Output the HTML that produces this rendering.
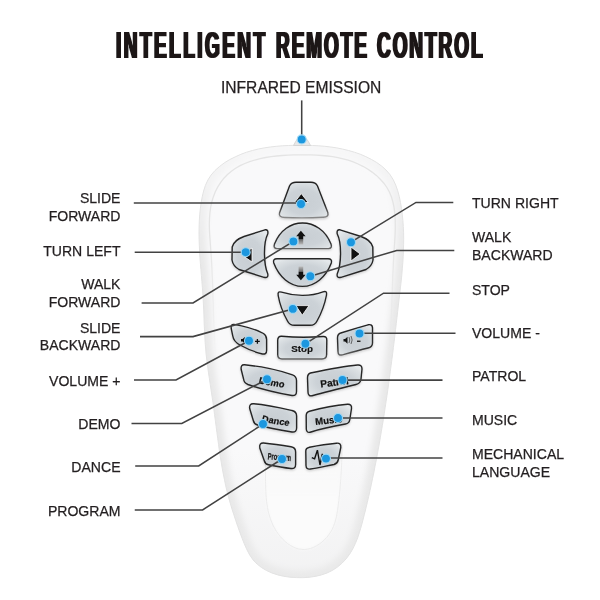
<!DOCTYPE html>
<html><head><meta charset="utf-8">
<style>
html,body{margin:0;padding:0;background:#fff;width:600px;height:600px;overflow:hidden}
svg{position:absolute;left:0;top:0;will-change:transform}
.lbl{font-family:"Liberation Sans",sans-serif;font-size:14.05px;fill:#231f20;stroke:#231f20;stroke-width:0.25}
.ttl{font-family:"Liberation Sans",sans-serif;font-weight:bold;font-size:36.5px;fill:#1d1819}
.ln{stroke:#424242;stroke-width:1.55;fill:none;stroke-linejoin:miter}
.dot{fill:#1c97df;stroke:#9fd8f4;stroke-width:1.1}
.btn path{fill:url(#bg);stroke:#262626;stroke-width:1.4}
.bt{font-family:"Liberation Sans",sans-serif;font-weight:bold;fill:#111;stroke:#111;stroke-width:0.2}
</style></head><body>
<svg width="600" height="600" viewBox="0 0 600 600">
<defs>
<linearGradient id="strk" x1="0" y1="0" x2="0" y2="1"><stop offset="0" stop-color="#222"/><stop offset="0.65" stop-color="#2a2a2a"/><stop offset="1" stop-color="#8a8a8a"/></linearGradient>
<linearGradient id="strk2" x1="0" y1="0" x2="0" y2="1"><stop offset="0" stop-color="#222"/><stop offset="0.8" stop-color="#333"/><stop offset="1" stop-color="#666"/></linearGradient>
<filter id="bshadow" x="-10%" y="-10%" width="120%" height="130%"><feDropShadow dx="0" dy="1.2" stdDeviation="1" flood-color="#000" flood-opacity="0.18"/></filter>
<filter id="thick" x="-5%" y="-20%" width="110%" height="140%"><feMorphology operator="dilate" radius="0.8 0"/></filter>
<radialGradient id="bg" cx="0.5" cy="0.55" r="0.62"><stop offset="0" stop-color="#c8ced3"/><stop offset="0.55" stop-color="#ccd2d7"/><stop offset="0.9" stop-color="#dce1e4"/><stop offset="1" stop-color="#e4e8eb"/></radialGradient>
<linearGradient id="body" x1="0" y1="0" x2="1" y2="0">
<stop offset="0" stop-color="#f4f4f4"/><stop offset="0.06" stop-color="#fbfbfb"/><stop offset="0.5" stop-color="#ffffff"/><stop offset="0.85" stop-color="#fafafa"/><stop offset="0.93" stop-color="#efefef"/><stop offset="1" stop-color="#f6f6f6"/>
</linearGradient>
</defs>
<!-- title -->
<g class="ttl" filter="url(#thick)">
<text x="0" y="0" transform="translate(116,58) scale(0.52,1)" style="letter-spacing:4.75px">INTELLIGENT</text>
<text x="0" y="0" transform="translate(276,58) scale(0.52,1)" style="letter-spacing:3.75px">REMOTE</text>
<text x="0" y="0" transform="translate(377,58) scale(0.52,1)" style="letter-spacing:3.75px">CONTROL</text>
</g>
<text class="lbl" x="221" y="92.8" style="font-size:15.6px">INFRARED EMISSION</text>
<!-- left labels -->
<g class="lbl" text-anchor="end">
<text x="120.5" y="203">SLIDE</text>
<text x="120.5" y="220.7">FORWARD</text>
<text x="120.5" y="255.5">TURN LEFT</text>
<text x="120.5" y="289.3">WALK</text>
<text x="120.5" y="307">FORWARD</text>
<text x="120.5" y="332.7">SLIDE</text>
<text x="120.5" y="350.2">BACKWARD</text>
<text x="120.5" y="385.5">VOLUME +</text>
<text x="120.5" y="429">DEMO</text>
<text x="120.5" y="472">DANCE</text>
<text x="120.5" y="515.6">PROGRAM</text>
</g>
<g class="lbl">
<text x="472" y="207.6">TURN RIGHT</text>
<text x="472" y="242">WALK</text>
<text x="472" y="259.6">BACKWARD</text>
<text x="472" y="294.6">STOP</text>
<text x="472" y="337.7">VOLUME -</text>
<text x="472" y="381">PATROL</text>
<text x="472" y="425">MUSIC</text>
<text x="472" y="459">MECHANICAL</text>
<text x="472" y="476.5">LANGUAGE</text>
</g>
<!-- remote body -->
<clipPath id="bclip"><path d="M300.5,145.3 L306.6,145.3 L312.7,145.5 L318.8,145.8 L324.8,146.3 L330.8,147.0 L336.8,147.9 L342.7,149.1 L348.6,150.5 L354.4,152.2 L360.2,154.2 L365.8,156.6 L371.4,159.4 L376.7,162.5 L381.7,166.1 L386.1,170.1 L390.0,174.6 L393.2,179.6 L395.7,185.0 L397.7,190.7 L399.3,196.6 L400.5,202.5 L401.5,208.6 L402.3,214.6 L402.9,220.6 L403.3,226.6 L403.6,232.7 L403.7,238.7 L403.6,244.7 L403.4,250.8 L403.2,256.8 L402.8,262.9 L402.3,268.9 L401.8,275.0 L401.2,281.0 L400.5,287.1 L399.8,293.2 L399.1,299.2 L398.4,305.2 L397.7,311.3 L397.0,317.3 L396.3,323.3 L395.6,329.4 L394.9,335.4 L394.2,341.4 L393.4,347.4 L392.7,353.5 L391.9,359.5 L391.1,365.5 L390.3,371.5 L389.5,377.5 L388.7,383.5 L387.9,389.4 L387.0,395.4 L386.1,401.4 L385.2,407.4 L384.3,413.4 L383.4,419.3 L382.4,425.3 L381.4,431.2 L380.4,437.2 L379.4,443.1 L378.3,449.1 L377.2,455.0 L376.1,461.0 L374.9,466.9 L373.8,472.8 L372.5,478.7 L371.3,484.7 L370.0,490.6 L368.7,496.5 L367.3,502.4 L365.9,508.3 L364.4,514.3 L362.9,520.2 L361.3,526.2 L359.5,532.2 L357.6,538.0 L355.3,543.6 L352.7,549.1 L349.6,554.2 L346.0,559.0 L341.9,563.3 L337.4,567.1 L332.4,570.4 L327.0,573.0 L321.2,575.0 L315.2,576.4 L309.0,577.3 L302.6,577.7 L296.3,577.6 L289.9,577.2 L283.7,576.3 L277.7,574.9 L272.0,573.0 L266.6,570.6 L261.6,567.6 L257.1,564.1 L253.1,559.9 L249.7,555.0 L246.9,549.7 L244.4,544.1 L242.1,538.3 L239.9,532.4 L237.8,526.6 L235.8,520.7 L233.9,514.9 L232.0,509.1 L230.3,503.3 L228.6,497.5 L227.1,491.6 L225.7,485.8 L224.5,479.9 L223.3,474.0 L222.2,468.1 L221.2,462.1 L220.2,456.2 L219.3,450.2 L218.5,444.2 L217.7,438.3 L216.9,432.3 L216.1,426.3 L215.3,420.3 L214.5,414.3 L213.7,408.2 L212.9,402.2 L212.0,396.2 L211.1,390.2 L210.2,384.2 L209.3,378.1 L208.4,372.1 L207.6,366.1 L206.8,360.1 L206.1,354.1 L205.6,348.1 L205.1,342.1 L204.8,336.0 L204.5,330.0 L204.2,324.0 L204.0,318.0 L203.8,312.0 L203.5,306.0 L203.2,299.9 L202.8,293.9 L202.4,287.8 L201.9,281.7 L201.4,275.6 L200.9,269.5 L200.4,263.5 L199.9,257.4 L199.6,251.3 L199.3,245.2 L199.1,239.1 L199.0,233.0 L199.1,227.0 L199.3,220.9 L199.7,214.9 L200.3,208.9 L201.1,202.9 L202.2,196.9 L203.6,191.0 L205.4,185.4 L207.9,180.0 L211.1,175.0 L215.0,170.5 L219.5,166.5 L224.4,162.8 L229.7,159.6 L235.3,156.8 L240.9,154.3 L246.6,152.2 L252.4,150.5 L258.3,149.0 L264.2,147.9 L270.2,147.0 L276.2,146.3 L282.2,145.8 L288.3,145.5 L294.4,145.3 L300.5,145.3Z"/></clipPath>
<filter id="blur1" x="-20%" y="-20%" width="140%" height="140%"><feGaussianBlur stdDeviation="0.7"/></filter>
<filter id="blur2" x="-20%" y="-20%" width="140%" height="140%"><feGaussianBlur stdDeviation="1.5"/></filter>
<filter id="blur3" x="-20%" y="-20%" width="140%" height="140%"><feGaussianBlur stdDeviation="3"/></filter>
<path fill="#f9f9fa" d="M300.5,145.3 L306.6,145.3 L312.7,145.5 L318.8,145.8 L324.8,146.3 L330.8,147.0 L336.8,147.9 L342.7,149.1 L348.6,150.5 L354.4,152.2 L360.2,154.2 L365.8,156.6 L371.4,159.4 L376.7,162.5 L381.7,166.1 L386.1,170.1 L390.0,174.6 L393.2,179.6 L395.7,185.0 L397.7,190.7 L399.3,196.6 L400.5,202.5 L401.5,208.6 L402.3,214.6 L402.9,220.6 L403.3,226.6 L403.6,232.7 L403.7,238.7 L403.6,244.7 L403.4,250.8 L403.2,256.8 L402.8,262.9 L402.3,268.9 L401.8,275.0 L401.2,281.0 L400.5,287.1 L399.8,293.2 L399.1,299.2 L398.4,305.2 L397.7,311.3 L397.0,317.3 L396.3,323.3 L395.6,329.4 L394.9,335.4 L394.2,341.4 L393.4,347.4 L392.7,353.5 L391.9,359.5 L391.1,365.5 L390.3,371.5 L389.5,377.5 L388.7,383.5 L387.9,389.4 L387.0,395.4 L386.1,401.4 L385.2,407.4 L384.3,413.4 L383.4,419.3 L382.4,425.3 L381.4,431.2 L380.4,437.2 L379.4,443.1 L378.3,449.1 L377.2,455.0 L376.1,461.0 L374.9,466.9 L373.8,472.8 L372.5,478.7 L371.3,484.7 L370.0,490.6 L368.7,496.5 L367.3,502.4 L365.9,508.3 L364.4,514.3 L362.9,520.2 L361.3,526.2 L359.5,532.2 L357.6,538.0 L355.3,543.6 L352.7,549.1 L349.6,554.2 L346.0,559.0 L341.9,563.3 L337.4,567.1 L332.4,570.4 L327.0,573.0 L321.2,575.0 L315.2,576.4 L309.0,577.3 L302.6,577.7 L296.3,577.6 L289.9,577.2 L283.7,576.3 L277.7,574.9 L272.0,573.0 L266.6,570.6 L261.6,567.6 L257.1,564.1 L253.1,559.9 L249.7,555.0 L246.9,549.7 L244.4,544.1 L242.1,538.3 L239.9,532.4 L237.8,526.6 L235.8,520.7 L233.9,514.9 L232.0,509.1 L230.3,503.3 L228.6,497.5 L227.1,491.6 L225.7,485.8 L224.5,479.9 L223.3,474.0 L222.2,468.1 L221.2,462.1 L220.2,456.2 L219.3,450.2 L218.5,444.2 L217.7,438.3 L216.9,432.3 L216.1,426.3 L215.3,420.3 L214.5,414.3 L213.7,408.2 L212.9,402.2 L212.0,396.2 L211.1,390.2 L210.2,384.2 L209.3,378.1 L208.4,372.1 L207.6,366.1 L206.8,360.1 L206.1,354.1 L205.6,348.1 L205.1,342.1 L204.8,336.0 L204.5,330.0 L204.2,324.0 L204.0,318.0 L203.8,312.0 L203.5,306.0 L203.2,299.9 L202.8,293.9 L202.4,287.8 L201.9,281.7 L201.4,275.6 L200.9,269.5 L200.4,263.5 L199.9,257.4 L199.6,251.3 L199.3,245.2 L199.1,239.1 L199.0,233.0 L199.1,227.0 L199.3,220.9 L199.7,214.9 L200.3,208.9 L201.1,202.9 L202.2,196.9 L203.6,191.0 L205.4,185.4 L207.9,180.0 L211.1,175.0 L215.0,170.5 L219.5,166.5 L224.4,162.8 L229.7,159.6 L235.3,156.8 L240.9,154.3 L246.6,152.2 L252.4,150.5 L258.3,149.0 L264.2,147.9 L270.2,147.0 L276.2,146.3 L282.2,145.8 L288.3,145.5 L294.4,145.3 L300.5,145.3Z"/>
<g clip-path="url(#bclip)"><linearGradient id="shg" gradientUnits="userSpaceOnUse" x1="0" y1="150" x2="0" y2="260"><stop offset="0" stop-color="#e8e8e8" stop-opacity="0.15"/><stop offset="1" stop-color="#e8e8e8" stop-opacity="1"/></linearGradient>
<path d="M300.5,145.3 L306.6,145.3 L312.7,145.5 L318.8,145.8 L324.8,146.3 L330.8,147.0 L336.8,147.9 L342.7,149.1 L348.6,150.5 L354.4,152.2 L360.2,154.2 L365.8,156.6 L371.4,159.4 L376.7,162.5 L381.7,166.1 L386.1,170.1 L390.0,174.6 L393.2,179.6 L395.7,185.0 L397.7,190.7 L399.3,196.6 L400.5,202.5 L401.5,208.6 L402.3,214.6 L402.9,220.6 L403.3,226.6 L403.6,232.7 L403.7,238.7 L403.6,244.7 L403.4,250.8 L403.2,256.8 L402.8,262.9 L402.3,268.9 L401.8,275.0 L401.2,281.0 L400.5,287.1 L399.8,293.2 L399.1,299.2 L398.4,305.2 L397.7,311.3 L397.0,317.3 L396.3,323.3 L395.6,329.4 L394.9,335.4 L394.2,341.4 L393.4,347.4 L392.7,353.5 L391.9,359.5 L391.1,365.5 L390.3,371.5 L389.5,377.5 L388.7,383.5 L387.9,389.4 L387.0,395.4 L386.1,401.4 L385.2,407.4 L384.3,413.4 L383.4,419.3 L382.4,425.3 L381.4,431.2 L380.4,437.2 L379.4,443.1 L378.3,449.1 L377.2,455.0 L376.1,461.0 L374.9,466.9 L373.8,472.8 L372.5,478.7 L371.3,484.7 L370.0,490.6 L368.7,496.5 L367.3,502.4 L365.9,508.3 L364.4,514.3 L362.9,520.2 L361.3,526.2 L359.5,532.2 L357.6,538.0 L355.3,543.6 L352.7,549.1 L349.6,554.2 L346.0,559.0 L341.9,563.3 L337.4,567.1 L332.4,570.4 L327.0,573.0 L321.2,575.0 L315.2,576.4 L309.0,577.3 L302.6,577.7 L296.3,577.6 L289.9,577.2 L283.7,576.3 L277.7,574.9 L272.0,573.0 L266.6,570.6 L261.6,567.6 L257.1,564.1 L253.1,559.9 L249.7,555.0 L246.9,549.7 L244.4,544.1 L242.1,538.3 L239.9,532.4 L237.8,526.6 L235.8,520.7 L233.9,514.9 L232.0,509.1 L230.3,503.3 L228.6,497.5 L227.1,491.6 L225.7,485.8 L224.5,479.9 L223.3,474.0 L222.2,468.1 L221.2,462.1 L220.2,456.2 L219.3,450.2 L218.5,444.2 L217.7,438.3 L216.9,432.3 L216.1,426.3 L215.3,420.3 L214.5,414.3 L213.7,408.2 L212.9,402.2 L212.0,396.2 L211.1,390.2 L210.2,384.2 L209.3,378.1 L208.4,372.1 L207.6,366.1 L206.8,360.1 L206.1,354.1 L205.6,348.1 L205.1,342.1 L204.8,336.0 L204.5,330.0 L204.2,324.0 L204.0,318.0 L203.8,312.0 L203.5,306.0 L203.2,299.9 L202.8,293.9 L202.4,287.8 L201.9,281.7 L201.4,275.6 L200.9,269.5 L200.4,263.5 L199.9,257.4 L199.6,251.3 L199.3,245.2 L199.1,239.1 L199.0,233.0 L199.1,227.0 L199.3,220.9 L199.7,214.9 L200.3,208.9 L201.1,202.9 L202.2,196.9 L203.6,191.0 L205.4,185.4 L207.9,180.0 L211.1,175.0 L215.0,170.5 L219.5,166.5 L224.4,162.8 L229.7,159.6 L235.3,156.8 L240.9,154.3 L246.6,152.2 L252.4,150.5 L258.3,149.0 L264.2,147.9 L270.2,147.0 L276.2,146.3 L282.2,145.8 L288.3,145.5 L294.4,145.3 L300.5,145.3Z" fill="none" stroke="url(#shg)" stroke-width="14" filter="url(#blur3)"/>
<linearGradient id="lowg" gradientUnits="userSpaceOnUse" x1="0" y1="450" x2="0" y2="580"><stop offset="0" stop-color="#ebebeb" stop-opacity="0"/><stop offset="1" stop-color="#ebebeb" stop-opacity="0.5"/></linearGradient>
<rect x="190" y="420" width="230" height="170" fill="url(#lowg)"/>
<linearGradient id="ufg" gradientUnits="userSpaceOnUse" x1="0" y1="440" x2="0" y2="500"><stop offset="0" stop-color="#fafafa" stop-opacity="0"/><stop offset="1" stop-color="#fbfbfb" stop-opacity="1"/></linearGradient>
<path d="M262.9,440.1 L263.5,443.0 L264.0,446.0 L264.5,449.1 L264.8,452.2 L265.0,455.3 L265.2,458.5 L265.3,461.7 L265.4,465.0 L265.4,468.3 L265.5,471.5 L265.5,474.8 L265.5,478.1 L265.5,481.5 L265.6,484.8 L265.7,488.1 L265.8,491.4 L266.0,494.7 L266.2,497.9 L266.6,501.2 L267.0,504.4 L267.5,507.6 L268.1,510.8 L268.9,513.9 L269.8,516.9 L270.8,520.0 L272.0,522.9 L273.3,525.9 L274.8,528.7 L276.5,531.5 L278.4,534.2 L280.5,536.8 L282.8,539.3 L285.2,541.5 L287.7,543.6 L290.3,545.4 L293.0,546.9 L295.9,548.1 L298.8,549.0 L301.7,549.4 L304.7,549.5 L307.7,549.1 L310.7,548.4 L313.6,547.3 L316.5,545.8 L319.3,544.1 L321.9,542.1 L324.4,539.8 L326.7,537.4 L328.8,534.8 L330.7,532.0 L332.3,529.1 L333.6,526.2 L334.7,523.1 L335.6,520.0 L336.4,516.8 L337.0,513.6 L337.5,510.4 L338.0,507.1 L338.4,503.9 L338.8,500.7 L339.1,497.5 L339.5,494.3 L339.8,491.1 L340.1,488.0 L340.3,484.8 L340.6,481.6 L340.8,478.5 L341.0,475.3 L341.2,472.2 L341.4,469.0 L341.5,465.8 L341.7,462.6 L341.8,459.5 L341.9,456.3 L341.9,453.0 L342.0,449.8 L342.0,446.6 L342.0,443.3 L342.0,440.0 L342,420 L263,420 Z" fill="url(#ufg)" filter="url(#blur2)"/>
<path d="M262.9,440.1 L263.5,443.0 L264.0,446.0 L264.5,449.1 L264.8,452.2 L265.0,455.3 L265.2,458.5 L265.3,461.7 L265.4,465.0 L265.4,468.3 L265.5,471.5 L265.5,474.8 L265.5,478.1 L265.5,481.5 L265.6,484.8 L265.7,488.1 L265.8,491.4 L266.0,494.7 L266.2,497.9 L266.6,501.2 L267.0,504.4 L267.5,507.6 L268.1,510.8 L268.9,513.9 L269.8,516.9 L270.8,520.0 L272.0,522.9 L273.3,525.9 L274.8,528.7 L276.5,531.5 L278.4,534.2 L280.5,536.8 L282.8,539.3 L285.2,541.5 L287.7,543.6 L290.3,545.4 L293.0,546.9 L295.9,548.1 L298.8,549.0 L301.7,549.4 L304.7,549.5 L307.7,549.1 L310.7,548.4 L313.6,547.3 L316.5,545.8 L319.3,544.1 L321.9,542.1 L324.4,539.8 L326.7,537.4 L328.8,534.8 L330.7,532.0 L332.3,529.1 L333.6,526.2 L334.7,523.1 L335.6,520.0 L336.4,516.8 L337.0,513.6 L337.5,510.4 L338.0,507.1 L338.4,503.9 L338.8,500.7 L339.1,497.5 L339.5,494.3 L339.8,491.1 L340.1,488.0 L340.3,484.8 L340.6,481.6 L340.8,478.5 L341.0,475.3 L341.2,472.2 L341.4,469.0 L341.5,465.8 L341.7,462.6 L341.8,459.5 L341.9,456.3 L341.9,453.0 L342.0,449.8 L342.0,446.6 L342.0,443.3 L342.0,440.0" fill="none" stroke="#e9e9e9" stroke-width="1" filter="url(#blur1)" opacity="0.8"/></g>
<path d="M300.5,145.3 L306.6,145.3 L312.7,145.5 L318.8,145.8 L324.8,146.3 L330.8,147.0 L336.8,147.9 L342.7,149.1 L348.6,150.5 L354.4,152.2 L360.2,154.2 L365.8,156.6 L371.4,159.4 L376.7,162.5 L381.7,166.1 L386.1,170.1 L390.0,174.6 L393.2,179.6 L395.7,185.0 L397.7,190.7 L399.3,196.6 L400.5,202.5 L401.5,208.6 L402.3,214.6 L402.9,220.6 L403.3,226.6 L403.6,232.7 L403.7,238.7 L403.6,244.7 L403.4,250.8 L403.2,256.8 L402.8,262.9 L402.3,268.9 L401.8,275.0 L401.2,281.0 L400.5,287.1 L399.8,293.2 L399.1,299.2 L398.4,305.2 L397.7,311.3 L397.0,317.3 L396.3,323.3 L395.6,329.4 L394.9,335.4 L394.2,341.4 L393.4,347.4 L392.7,353.5 L391.9,359.5 L391.1,365.5 L390.3,371.5 L389.5,377.5 L388.7,383.5 L387.9,389.4 L387.0,395.4 L386.1,401.4 L385.2,407.4 L384.3,413.4 L383.4,419.3 L382.4,425.3 L381.4,431.2 L380.4,437.2 L379.4,443.1 L378.3,449.1 L377.2,455.0 L376.1,461.0 L374.9,466.9 L373.8,472.8 L372.5,478.7 L371.3,484.7 L370.0,490.6 L368.7,496.5 L367.3,502.4 L365.9,508.3 L364.4,514.3 L362.9,520.2 L361.3,526.2 L359.5,532.2 L357.6,538.0 L355.3,543.6 L352.7,549.1 L349.6,554.2 L346.0,559.0 L341.9,563.3 L337.4,567.1 L332.4,570.4 L327.0,573.0 L321.2,575.0 L315.2,576.4 L309.0,577.3 L302.6,577.7 L296.3,577.6 L289.9,577.2 L283.7,576.3 L277.7,574.9 L272.0,573.0 L266.6,570.6 L261.6,567.6 L257.1,564.1 L253.1,559.9 L249.7,555.0 L246.9,549.7 L244.4,544.1 L242.1,538.3 L239.9,532.4 L237.8,526.6 L235.8,520.7 L233.9,514.9 L232.0,509.1 L230.3,503.3 L228.6,497.5 L227.1,491.6 L225.7,485.8 L224.5,479.9 L223.3,474.0 L222.2,468.1 L221.2,462.1 L220.2,456.2 L219.3,450.2 L218.5,444.2 L217.7,438.3 L216.9,432.3 L216.1,426.3 L215.3,420.3 L214.5,414.3 L213.7,408.2 L212.9,402.2 L212.0,396.2 L211.1,390.2 L210.2,384.2 L209.3,378.1 L208.4,372.1 L207.6,366.1 L206.8,360.1 L206.1,354.1 L205.6,348.1 L205.1,342.1 L204.8,336.0 L204.5,330.0 L204.2,324.0 L204.0,318.0 L203.8,312.0 L203.5,306.0 L203.2,299.9 L202.8,293.9 L202.4,287.8 L201.9,281.7 L201.4,275.6 L200.9,269.5 L200.4,263.5 L199.9,257.4 L199.6,251.3 L199.3,245.2 L199.1,239.1 L199.0,233.0 L199.1,227.0 L199.3,220.9 L199.7,214.9 L200.3,208.9 L201.1,202.9 L202.2,196.9 L203.6,191.0 L205.4,185.4 L207.9,180.0 L211.1,175.0 L215.0,170.5 L219.5,166.5 L224.4,162.8 L229.7,159.6 L235.3,156.8 L240.9,154.3 L246.6,152.2 L252.4,150.5 L258.3,149.0 L264.2,147.9 L270.2,147.0 L276.2,146.3 L282.2,145.8 L288.3,145.5 L294.4,145.3 L300.5,145.3Z" fill="none" stroke="#e3e3e3" stroke-width="1"/>
<linearGradient id="bevg" gradientUnits="userSpaceOnUse" x1="0" y1="240" x2="0" y2="360"><stop offset="0" stop-color="#e4e4e4"/><stop offset="1" stop-color="#e4e4e4" stop-opacity="0"/></linearGradient>
<path d="M216.0,360.0 L215.5,354.4 L215.2,348.9 L214.8,343.4 L214.5,337.9 L214.2,332.5 L214.0,327.1 L213.8,321.7 L213.6,316.3 L213.4,311.0 L213.3,305.6 L213.1,300.3 L212.9,294.9 L212.8,289.6 L212.6,284.3 L212.4,278.9 L212.1,273.5 L211.9,268.1 L211.6,262.7 L211.3,257.3 L210.9,251.8 L210.5,246.3 L210.1,240.7 L209.7,235.1 L209.4,229.6 L209.3,224.0 L209.5,218.5 L209.9,213.0 L210.6,207.6 L211.7,202.2 L213.3,196.9 L215.3,191.8 L217.8,186.9 L220.7,182.3 L223.9,178.2 L227.5,174.5 L231.4,171.2 L235.6,168.3 L240.1,165.7 L244.8,163.5 L249.7,161.6 L254.8,160.0 L260.1,158.6 L265.5,157.5 L271.1,156.6 L276.7,156.0 L282.4,155.5 L288.1,155.1 L293.8,154.9 L299.5,154.8 L305.2,154.8 L310.8,154.9 L316.3,155.1 L321.8,155.5 L327.3,156.0 L332.6,156.7 L337.9,157.6 L343.1,158.8 L348.2,160.2 L353.2,161.9 L358.1,164.0 L362.9,166.3 L367.6,169.0 L372.1,172.1 L376.4,175.4 L380.3,179.2 L383.9,183.2 L386.9,187.5 L389.4,192.0 L391.4,196.8 L392.9,201.9 L394.0,207.1 L394.7,212.4 L395.2,217.9 L395.3,223.5 L395.3,229.1 L395.1,234.8 L394.8,240.5 L394.4,246.2 L394.0,251.8 L393.7,257.4 L393.4,262.9 L393.2,268.3 L392.9,273.7 L392.7,279.1 L392.5,284.4 L392.3,289.8 L392.1,295.1 L391.9,300.4 L391.7,305.7 L391.5,310.9 L391.2,316.3 L391.0,321.6 L390.7,326.9 L390.3,332.3 L390.0,337.8 L389.6,343.2 L389.1,348.8 L388.6,354.3 L388.0,360.0" fill="none" stroke="url(#bevg)" stroke-width="1.3"/>
<!-- IR bump -->
<path d="M293.5,145.5 Q298,136 302,136 Q306,136 310.5,145.5 Z" fill="#e8e8e8" stroke="#d0d0d0" stroke-width="0.8"/>
<!-- buttons -->
<g class="btn" filter="url(#bshadow)">
<path style="stroke:url(#strk)" d="M279.5,213 L289.5,186 Q291.5,182.3 296,182.3 L311,182.3 Q315.5,182.3 317.5,186 L327.8,212.5 Q329,217 323.5,217.3 C310,218 296,218 284.5,217.5 Q278.5,217.2 279.5,213 Z"/>
<path style="stroke:url(#strk2)" d="M277,248.6 Q273,248.6 274.5,244 C280,230 291,223 302.5,223 C314,223 325.5,230 331,244 Q332.5,248.6 328.5,248.6 Z"/>
<path d="M277,258.8 L328,258.8 Q332.5,258.8 331.3,263 C326,277 315,286.4 302.5,286.4 C290,286.4 279,277 273.8,263 Q272.5,258.8 277,258.8 Z"/>
<path d="M265,229.8 L244,236.5 Q234,240 232.2,247 L232,260 Q233,266 239,269.5 L264,277.3 Q268.5,278.5 267.8,274 C263.5,264 263.2,243 267.7,234 Q268.7,229.2 265,229.8 Z"/>
<path d="M340,229.8 L361,236.5 Q371,240 372.8,247 L373,260 Q372,266 366,269.5 L341,277.3 Q336.5,278.5 337.2,274 C341.5,264 341.8,243 337.3,234 Q336.3,229.2 340,229.8 Z"/>
<path d="M281.5,292.2 C295,296.5 311,296.5 323,291.8 Q327.3,290.3 326.5,295 C325,303 321.5,313 317,321 Q315,325.3 310,325.3 L294.5,325.3 Q289.5,325.3 287.5,321 C283,313 279.5,303 278.2,295.5 Q277.3,290.8 281.5,292.2 Z"/>
<path d="M234,324.4 C246,326.5 257,330 263.5,333.5 Q266.6,335.5 266.6,339.5 L266.6,350.5 Q266.6,354.5 262.5,354 C254,352 246,348.5 240,345 Q233.5,341.5 232.8,336 L231.2,328.5 Q230.8,324 234,324.4 Z"/>
<path style="stroke:url(#strk2)" d="M281.5,336.2 C295,337.5 310,337.5 323,336.5 Q327,336.2 326.8,340.5 L326.6,354.5 Q326.6,359 322,359 L282,359 Q277.7,359 277.7,354.5 L277.7,340.5 Q277.7,336 281.5,336.2 Z"/>
<path style="stroke:url(#strk2)" d="M340.8,333 C350,330 360,327 368,324.8 Q372.5,323.8 372.5,328 L372.5,343 Q372.5,347 368,348 C360,350 349,353 342.5,354.8 Q338,356 338,351.5 L337.5,338 Q337.5,334 340.8,333 Z"/>
<path d="M244.5,364.8 C262,366.5 280,370.5 292.5,374.8 Q296.5,376.3 296.5,380.5 L296.5,391.5 Q296.5,396 292,395.5 C278,393 261,389 248,384.5 Q244,383 243.6,379 L241.2,369.5 Q240.5,364.5 244.5,364.8 Z"/>
<path d="M310.5,373 C325,370 342,366.5 357.5,365 Q362,364.5 362,369 L361,379 Q360.5,383.5 356,384.5 C342,388 326,392 313,395.5 Q308,397 308,392 L307.5,378 Q307.5,374 310.5,373 Z"/>
<path d="M253.5,403.8 C268,405 281,408 292,410.5 Q296.6,411.5 296.6,416 L296.6,428 Q296.6,432.5 292,432 C280,430 267,427.5 257.5,425 Q254,424 253.3,420.5 L249.7,408.5 Q249,403.5 253.5,403.8 Z"/>
<path d="M309.5,411.2 C320,408.5 335,405.5 347.5,404.3 Q352,404 351.5,408.5 L349.8,419.5 Q349.3,423.5 345.5,424 C334,426 320,429 311,432 Q306.5,433.5 306.3,429 L306.2,415.5 Q306.2,412 309.5,411.2 Z"/>
<path d="M263.5,443 C273,444 283,445.5 291,446.8 Q295.6,447.5 295.6,452 L295.6,464.5 Q295.6,469 291,468.5 C283,467.5 275,466 268.5,464.7 Q265,464 264.2,460.5 L259.8,448 Q259,442.8 263.5,443 Z"/>
<path d="M309.5,447.2 C318,445.5 327,444 336.5,443.2 Q341.3,442.8 340.8,447.5 L338.2,460 Q337.5,463.5 334,464.5 C326,466 317,468 310.5,469 Q306.2,469.8 306,465.5 L305.8,451 Q305.8,448 309.5,447.2 Z"/>
</g>
<!-- icons -->
<path d="M301.3,193.6 L308.2,202.5 L294.4,202.5 Z" fill="#111" stroke="#fff" stroke-width="0.8"/>
<defs><linearGradient id="shu" x1="0" y1="0" x2="0" y2="1"><stop offset="0" stop-color="#666"/><stop offset="1" stop-color="#bbb"/></linearGradient>
<linearGradient id="shd" x1="0" y1="1" x2="0" y2="0"><stop offset="0" stop-color="#666"/><stop offset="1" stop-color="#bbb"/></linearGradient></defs>
<rect x="298.6" y="239.2" width="4.6" height="5.3" fill="url(#shu)"/>
<path d="M300.9,230.8 L305.6,236.3 L303.2,236.3 L303.2,239.3 L298.6,239.3 L298.6,236.3 L296.2,236.3 Z" fill="#111"/>
<rect x="298.6" y="266.5" width="4.6" height="5.3" fill="url(#shd)"/>
<path d="M300.9,280.2 L305.6,274.7 L303.2,274.7 L303.2,271.7 L298.6,271.7 L298.6,274.7 L296.2,274.7 Z" fill="#111"/>
<path d="M351,247 L360.2,254 L351,261 Z" fill="#111" stroke="#fff" stroke-width="0.8"/>
<path d="M252,248 L242,255 L252,262 Z" fill="#111" stroke="#fff" stroke-width="0.8"/>
<path d="M295.8,305.6 L309,305.6 L302.3,315.2 Z" fill="#111" stroke="#fff" stroke-width="0.8"/>
<path d="M241,339 h1.6 l2.2,-2 v6.4 l-2.2,-2 h-1.6 Z" fill="#111"/>
<path d="M255,341.4 h4.8 M257.4,339 v4.8" stroke="#111" stroke-width="1.3" fill="none"/>
<text class="bt" x="291.2" y="351.8" font-size="9.8" style="stroke-width:0.15">Stop</text>
<path d="M343.5,339 h1.6 l2.4,-2.2 v7 l-2.4,-2.2 h-1.6 Z" fill="#111"/>
<path d="M349,337 q1.5,3 0,6 M351,336 q2.3,4 0,8" fill="none" stroke="#555" stroke-width="0.9"/>
<rect x="357" y="340.6" width="3.5" height="1.3" fill="#111"/>
<text class="bt" font-size="9.3" transform="translate(258.3,383.6) rotate(9) skewX(-4)">Demo</text>
<text class="bt" font-size="10" transform="translate(320.8,387.5) rotate(-7)">Patrol</text>
<text class="bt" font-size="9.3" transform="translate(261.3,421.8) rotate(9) skewX(-4)">Dance</text>
<text class="bt" font-size="9.6" transform="translate(315.5,425) rotate(-6)">Music</text>
<text class="bt" font-size="9.5" transform="translate(267.5,459.4) rotate(4) scale(0.6,1)">Program</text>
<path d="M311.8,457.6 L314.6,458.8 L317.4,450.2 L320,465 L322.3,454 L324,458.3 L326,458" fill="none" stroke="#111" stroke-width="1.4" stroke-linejoin="miter" stroke-miterlimit="3"/>
<!-- lines -->
<g class="ln">
<path d="M301.7,100.4 V139.4"/>
<path d="M133.8,203 H301"/>
<path d="M134.7,252.2 H245.7"/>
<path d="M141.6,303 H193 L293.4,241.4"/>
<path d="M140,336.6 H193 L292.8,308.9"/>
<path d="M134,380 H176 L249,340.7"/>
<path d="M131.5,423.4 H181.8 L267,379.3"/>
<path d="M135.2,466 H198.7 L263,424"/>
<path d="M134.75,509.9 H202.6 L282,459"/>
<path d="M351,242.2 L416,202.4 H453.3"/>
<path d="M310.3,276.3 L396.7,250.4 H454.3"/>
<path d="M305.4,343.8 L383.5,293.2 H449.5"/>
<path d="M359.5,333.2 H455.5"/>
<path d="M342.5,380.1 H442.5"/>
<path d="M338,417.9 H442.5"/>
<path d="M326,458 H442.5"/>
</g>
<g class="dot">
<circle cx="301.7" cy="139.4" r="4.5"/>
<circle cx="301" cy="204" r="4.5"/>
<circle cx="245.7" cy="252.2" r="4.5"/>
<circle cx="293.4" cy="241.4" r="4.5"/>
<circle cx="351" cy="242.2" r="4.5"/>
<circle cx="310.3" cy="276.3" r="4.5"/>
<circle cx="292.8" cy="308.9" r="4.5"/>
<circle cx="249" cy="340.7" r="4.5"/>
<circle cx="305.4" cy="343.8" r="4.5"/>
<circle cx="359.5" cy="333.5" r="4.5"/>
<circle cx="267" cy="379.3" r="4.5"/>
<circle cx="342.5" cy="380" r="4.5"/>
<circle cx="263" cy="424" r="4.5"/>
<circle cx="338" cy="418" r="4.5"/>
<circle cx="282" cy="459" r="4.5"/>
<circle cx="326" cy="458.6" r="4.5"/>
</g>
</svg>
</body></html>
